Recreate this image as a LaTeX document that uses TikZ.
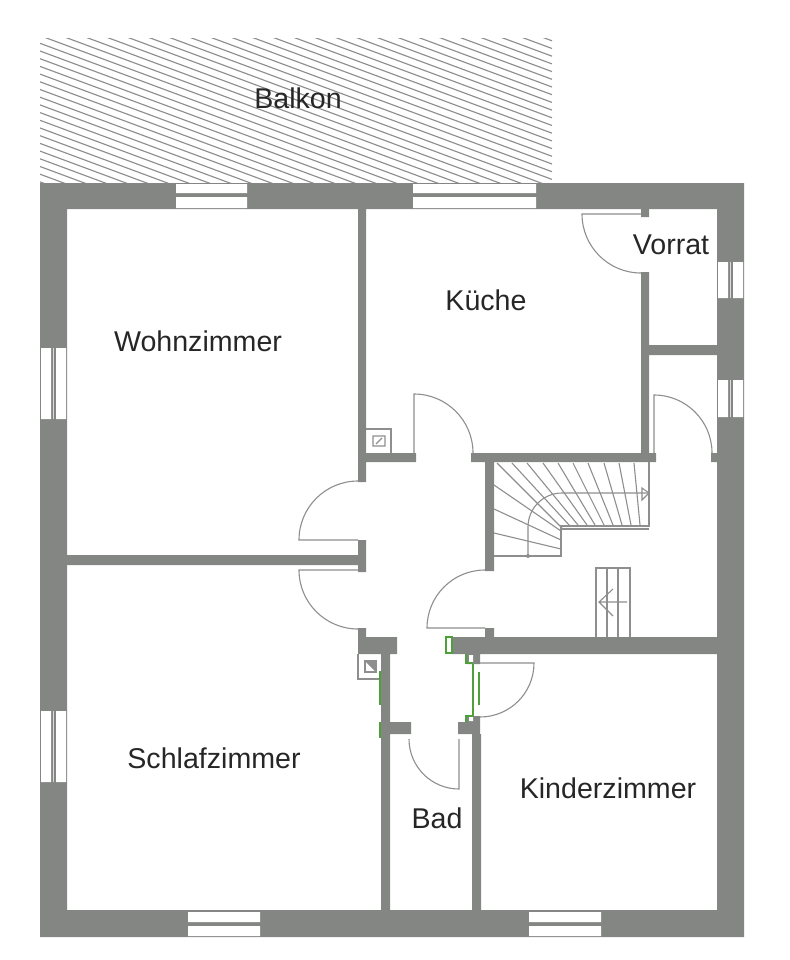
\documentclass[tikz,border=0pt]{standalone}
\usepackage{fontspec}
\setmainfont{Liberation Sans}
\definecolor{wallgray}{HTML}{848684}
\definecolor{linegray}{HTML}{8E8E8E}
\definecolor{pipegreen}{HTML}{4EA038}
\begin{document}
\begin{tikzpicture}[x=1pt,y=-1pt,
		wall/.style={fill=wallgray},
		glass/.style={fill=white},
		thinline/.style={draw=linegray,line width=1.1pt},
		hatchline/.style={draw=linegray,line width=1.15pt},
		pipe/.style={draw=pipegreen,line width=1.1pt},
		room/.style={font=\fontsize{28.6}{33}\selectfont,text=black!85}]
		\useasboundingbox (0,0) rectangle (789,960);
		% balcony
		\begin{scope}
		\clip (40,39) rectangle (552,183);
		\foreach \h in {-180,-172.3,...,190} {
			\draw[hatchline] (40,\h) -- (552,\h+190);
		}
		\end{scope}
		% walls
		\fill[wall,even odd rule] (40,183) rectangle (744,937) (67,209) rectangle (717,910);
		\fill[wall] (358,209) rectangle (366,482)
			(358,540) rectangle (366,572)
			(67,555) rectangle (358,565)
			(366,453) rectangle (416,462)
			(471,453) rectangle (656,462)
			(711,453) rectangle (717,462)
			(641,209) rectangle (649,217)
			(641,272) rectangle (649,453)
			(649,345) rectangle (717,355)
			(485,462) rectangle (494,571)
			(485,628) rectangle (494,637)
			(452,637) rectangle (717,654)
			(358,628) rectangle (366,637)
			(358,637) rectangle (397,654)
			(381,654) rectangle (390,910)
			(381,722) rectangle (411,734)
			(458,722) rectangle (480,734)
			(472,734) rectangle (481,910)
			(467,716) rectangle (480,722)
			(467,654) rectangle (480,664);
		\fill[white] (469,717) rectangle (473,721) (469,655) rectangle (473,663);
		% windows
		\foreach \xa/\xb/\ya/\yb/\yc/\yd in {176/247/184/193/197/208,413/536/184/193/197/208,
			188/260/912/922/926/936,529/601/912/922/926/936} {
			\fill[glass] (\xa,\ya) rectangle (\xb,\yb) (\xa,\yc) rectangle (\xb,\yd);
		}
		\foreach \ya/\yb/\xa in {348/419/41,711/782/41,262/298/718,380/417/718} {
			\fill[glass] (\xa,\ya) rectangle (\xa+10,\yb) (\xa+15,\ya) rectangle (\xa+25,\yb);
			\fill[white!70!wallgray] (\xa+12,\ya) rectangle (\xa+13,\yb);
		}
		% doors
		\foreach \cx/\cy/\sa/\ea/\r in {358/540/180/270/59,358/570/180/90/59,414/453/-90/0/59,
			654/453/-90/0/58,641/214/180/90/59,485/628/180/270/58,459/739/90/180/50,480/663/0/90/54} {
			\draw[thinline] (\cx,\cy) -- ++(\sa:\r) arc[start angle=\sa,end angle=\ea,radius=\r];
		}
		% main stairs
		\draw[thinline] (649,462) -- (649,526) -- (561,526) -- (561,556) -- (494,556);
		\draw[thinline] (561,529) -- (649,529);
		\foreach \xa/\ya/\xb/\yb in {634/463/640/525,619/463/631/525,604/463/622/525,588/463/613/525,
			573/463/604/525,558/463/595/525,543/463/587/525,527/463/578/525,512/463/570/526,
			497/463/562/528,494/485/561/531,494/509/561/540,494/533/561/549} {
			\draw[thinline] (\xa,\ya) -- (\xb,\yb);
		}
		\draw[thinline] (528,556) -- (528,527) arc[start angle=180,end angle=270,radius=34] -- (649,493);
		\fill[linegray] (528,556) circle[radius=2];
		\draw[thinline] (642,488) -- (649,493) -- (642,500) -- cycle;
		% small stairs
		\draw[thinline] (596,637) -- (596,568) -- (630,568) -- (630,637);
		\draw[thinline] (607,568) -- (607,637) (618,568) -- (618,637);
		\draw[thinline] (627,602) -- (599,602) (613,589) -- (599,602) -- (613,616);
		% shafts
		\draw[thinline] (366,429) -- (391,429) -- (391,453);
		\draw[thinline] (373,436) rectangle (385,446) (376,444) -- (382,438);
		\draw[thinline] (358,654) -- (358,679) -- (381,679);
		\draw[thinline,fill=white] (365,661) rectangle (376,672);
		\fill[linegray] (366,662) -- (375,662) -- (375,671) -- cycle;
		% pipes
		\draw[pipe] (380,671) -- (380,705) (380,722) -- (380,738);
		\draw[pipe] (446,637) rectangle (452,653);
		\draw[pipe] (473,664) -- (473,716) (479,672) -- (479,705);
		\draw[pipe] (466,654) -- (466,663) -- (473,663) (466,722) -- (466,716) -- (473,716);
		% room names
		\node[room] (balkon) at (298,98) {Balkon};
		\node[room] (wohnzimmer) at (198,341) {Wohnzimmer};
		\node[room] (kueche) at (486,300) {Küche};
		\node[room] (vorrat) at (671,245) {Vorrat};
		\node[room] (schlafzimmer) at (214,758) {Schlafzimmer};
		\node[room] (bad) at (437,818) {Bad};
		\node[room] (kinderzimmer) at (608,788) {Kinderzimmer};
\end{tikzpicture}
\end{document}
